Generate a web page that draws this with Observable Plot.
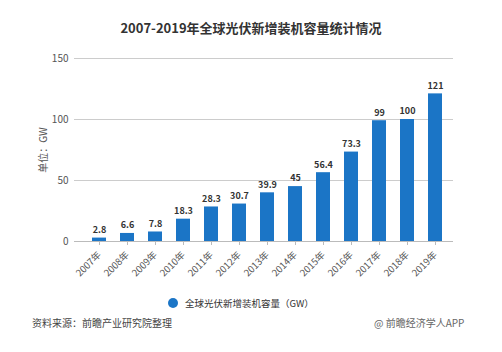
<!DOCTYPE html>
<html><head><meta charset="utf-8">
<script src="https://cdn.jsdelivr.net/npm/d3@7"></script>
<script src="https://cdn.jsdelivr.net/npm/@observablehq/plot@0.6"></script>
<style>
body{margin:0;background:#fff;font-family:"Noto Sans CJK SC","Noto Sans",sans-serif;}
#wrap{position:relative;width:502px;height:352px;overflow:hidden;}
#title{position:absolute;top:18px;left:0;width:502px;text-align:center;font-size:13px;font-weight:bold;color:#333;}
#chart{position:absolute;top:45px;left:0;}
#legend{position:absolute;top:296px;left:168px;font-size:9.5px;color:#333;display:flex;align-items:center;}
#legend span.dot{display:inline-block;width:10px;height:10px;border-radius:50%;background:#1b75c6;margin-right:7px;}
#src{position:absolute;top:315px;left:32px;font-size:10px;color:#444;}
#brand{position:absolute;top:315px;left:374px;font-size:10px;color:#666;}
</style></head>
<body><div id="wrap">
<div id="title">2007-2019年全球光伏新增装机容量统计情况</div>
<div id="chart"></div>
<div id="legend"><span class="dot"></span>全球光伏新增装机容量（GW）</div>
<div id="src">资料来源：前瞻产业研究院整理</div>
<div id="brand">@ 前瞻经济学人APP</div>
</div>
<script>
const years = ["2007年","2008年","2009年","2010年","2011年","2012年","2013年","2014年","2015年","2016年","2017年","2018年","2019年"];
const values = [2.8, 6.6, 7.8, 18.3, 28.3, 30.7, 39.9, 45, 56.4, 73.3, 99, 100, 121];
const yTicks = [0, 50, 100, 150];
const data = years.map((y, i) => ({year: y, value: values[i]}));
const chart = Plot.plot({
  width: 502,
  height: 245,
  marginTop: 13,
  marginBottom: 49,
  marginLeft: 74,
  marginRight: 49,
  style: {fontFamily: '"Noto Sans CJK SC","Noto Sans",sans-serif', background: "transparent"},
  x: {domain: years, paddingInner: 0.5, paddingOuter: 0.25, insetLeft: 7, label: null},
  y: {domain: [0, 150], label: null},
  marks: [
    Plot.gridY(yTicks.filter(d => d > 0), {stroke: "#ccc", strokeOpacity: 1}),
    Plot.axisY({ticks: yTicks, tickSize: 0, tickPadding: 6, fontSize: 10, color: "#555", label: "单位：GW", labelAnchor: "center", labelArrow: "none", labelOffset: 35}),
    Plot.barY(data, {x: "year", y: "value", fill: "#1b75c6"}),
    Plot.ruleY([0], {stroke: "#bbb"}),
    Plot.axisX({tickRotate: -45, tickSize: 4, fontSize: 9.5, color: "#555", stroke: "#bbb"}),
    Plot.text(data, {x: "year", y: "value", text: d => String(d.value), dy: -8, fontSize: 9, fontWeight: "bold", fill: "#333"})
  ]
});
document.getElementById("chart").appendChild(chart);
</script>
</body></html>
